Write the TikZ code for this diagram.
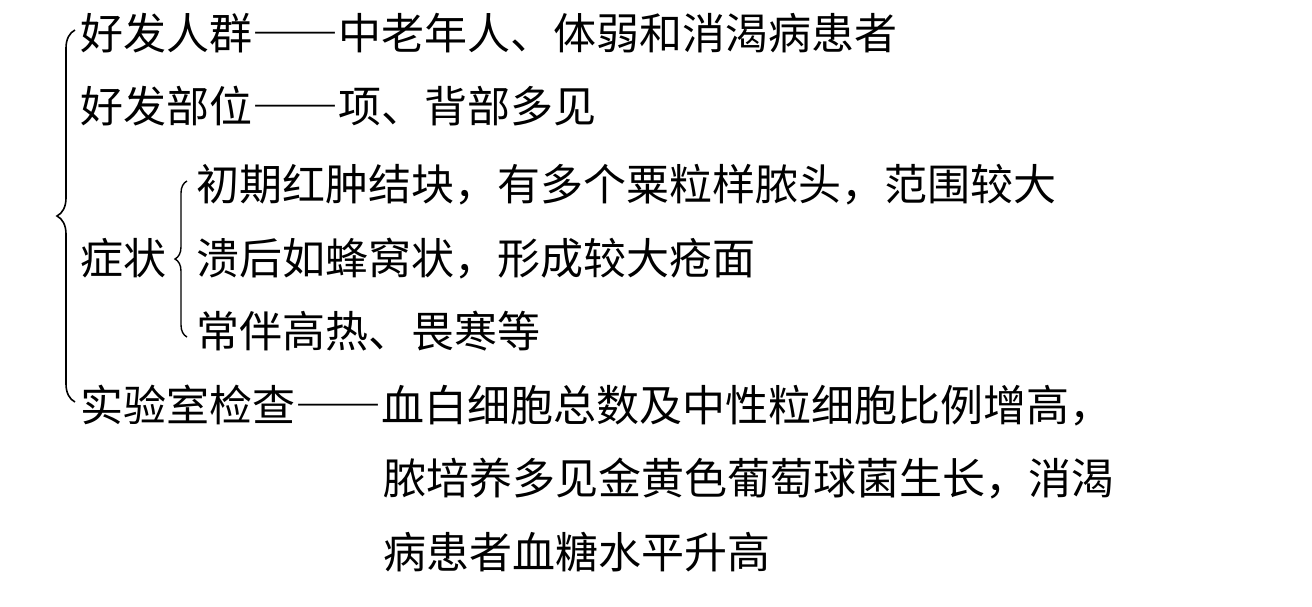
\documentclass[tikz,border=0pt]{standalone}
\usepackage{fontspec}
\newfontfamily\zhfont[RawFeature=+fwid]{Noto Sans CJK SC}
\usetikzlibrary{decorations.pathreplacing}
\tikzset{
  item/.style={anchor=base west,inner sep=0pt,font=\zhfont\fontsize{43}{43}\selectfont},
  bigbrace/.style={decorate,decoration={brace,amplitude=18pt},line width=1.6pt},
  smallbrace/.style={decorate,decoration={brace,amplitude=12pt},line width=1.4pt}
}
\begin{document}
\begin{tikzpicture}[x=1pt,y=-1pt]
\useasboundingbox (0,0) rectangle (1312,606);
\node[item] (crowd) at (80,49) {好发人群——中老年人、体弱和消渴病患者};
\node[item] (site) at (80,122) {好发部位——项、背部多见};
\node[item] (symA) at (196,200) {初期红肿结块，有多个粟粒样脓头，范围较大};
\node[item] (sym) at (80,274) {症状};
\node[item] (symB) at (196,274) {溃后如蜂窝状，形成较大疮面};
\node[item] (symC) at (196,347) {常伴高热、畏寒等};
\node[item] (lab) at (80,421) {实验室检查——血白细胞总数及中性粒细胞比例增高，};
\node[item] (labB) at (383,494) {脓培养多见金黄色葡萄球菌生长，消渴};
\node[item] (labC) at (383,568) {病患者血糖水平升高};
% braces
\coordinate (bigtop) at (75,30);
\coordinate (bigbot) at (75,402);
\coordinate (smalltop) at (187,181);
\coordinate (smallbot) at (187,337);
\draw[bigbrace] (bigbot) -- (bigtop);
\draw[smallbrace] (smallbot) -- (smalltop);
\end{tikzpicture}
\end{document}
